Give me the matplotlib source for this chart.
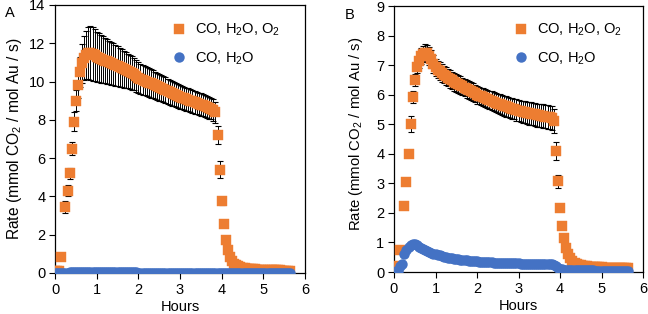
import numpy as np
import matplotlib
matplotlib.use("Agg")
import matplotlib.pyplot as plt

plt.rcParams['font.family'] = ['Liberation Sans', 'DejaVu Sans']
plt.rcParams['mathtext.fontset'] = 'custom'
plt.rcParams['mathtext.rm'] = 'Liberation Sans'
plt.rcParams['mathtext.it'] = 'Liberation Sans:italic'
plt.rcParams['mathtext.bf'] = 'Liberation Sans:bold'

STEP_H = 0.05  # sampling interval (hours)
nan = np.nan

# ---------------- Panel A ----------------
rate_A_o2 = [0.08, 0.08, 0.10, 0.85, nan, 3.45, 4.30, 5.20, 6.50, 7.90,
             9.00, 9.80, 10.50, 10.95, 11.25, 11.40, 11.50, 11.50, 11.45, 11.38,
             11.30, 11.25, 11.20, 11.15, 11.10, 11.05, 11.00, 10.95, 10.90, 10.85,
             10.80, 10.75, 10.70, 10.65, 10.60, 10.55, 10.50, 10.45, 10.40, 10.30,
             10.20, 10.15, 10.10, 10.05, 10.00, 9.95, 9.90, 9.85, 9.80, 9.75,
             9.70, 9.65, 9.60, 9.55, 9.50, 9.45, 9.40, 9.35, 9.30, 9.25,
             9.20, 9.16, 9.12, 9.08, 9.04, 9.00, 8.96, 8.92, 8.88, 8.84,
             8.80, 8.76, 8.72, 8.68, 8.62, 8.58, 8.52, 8.40, 7.20, 5.40,
             3.75, 2.55, 1.75, 1.20, 0.85, 0.62, 0.48, 0.40, 0.34, 0.30,
             0.27, 0.25, 0.23, 0.22, 0.21, 0.20, 0.19, 0.18, 0.18, 0.17,
             0.17, 0.16, 0.16, 0.15, 0.15, 0.15, 0.14, 0.14, 0.14, 0.13,
             0.13, 0.13, 0.12, 0.12]
err_A_o2 = [0.05, 0.05, 0.05, 0.10, nan, 0.33, 0.30, 0.30, 0.35, 0.50,
            0.55, 0.65, 0.80, 1.00, 1.15, 1.25, 1.35, 1.40, 1.40, 1.35,
            1.30, 1.28, 1.25, 1.22, 1.20, 1.17, 1.14, 1.12, 1.09, 1.06,
            1.04, 1.01, 0.99, 0.96, 0.94, 0.91, 0.89, 0.87, 0.85, 0.83,
            0.80, 0.79, 0.78, 0.77, 0.76, 0.75, 0.74, 0.73, 0.72, 0.71,
            0.70, 0.69, 0.68, 0.67, 0.66, 0.65, 0.65, 0.64, 0.63, 0.62,
            0.62, 0.61, 0.61, 0.60, 0.60, 0.60, 0.59, 0.59, 0.59, 0.58,
            0.58, 0.58, 0.57, 0.57, 0.57, 0.56, 0.56, 0.55, 0.48, 0.46,
            0.20, 0.15, 0.10, 0.05, 0.04, 0.03, 0.03, 0.03, 0.03, 0.03,
            0.03, 0.03, 0.03, 0.03, 0.03, 0.03, 0.03, 0.03, 0.03, 0.03,
            0.03, 0.03, 0.03, 0.03, 0.03, 0.03, 0.03, 0.03, 0.03, 0.03,
            0.03, 0.03, 0.03, 0.03]
rate_A_no_o2 = [0.01, 0.02, 0.02, 0.02, 0.02, 0.02, 0.02, 0.03, 0.03, 0.03,
                0.03, 0.03, 0.03, 0.03, 0.03, 0.03, 0.03, 0.03, 0.03, 0.03,
                0.03, 0.03, 0.03, 0.03, 0.03, 0.03, 0.03, 0.03, 0.03, 0.03,
                0.03, 0.03, 0.03, 0.03, 0.03, 0.03, 0.03, 0.03, 0.03, 0.03,
                0.02, 0.02, 0.02, 0.02, 0.02, 0.02, 0.02, 0.02, 0.02, 0.02,
                0.02, 0.02, 0.02, 0.02, 0.02, 0.02, 0.02, 0.02, 0.02, 0.02,
                0.02, 0.02, 0.02, 0.02, 0.02, 0.02, 0.02, 0.02, 0.02, 0.02,
                0.02, 0.02, 0.02, 0.02, 0.02, 0.02, 0.02, 0.02, 0.02, 0.02,
                0.02, 0.02, 0.02, 0.02, 0.02, 0.02, 0.02, 0.02, 0.02, 0.02,
                0.02, 0.02, 0.02, 0.02, 0.02, 0.02, 0.02, 0.02, 0.02, 0.02,
                0.02, 0.02, 0.02, 0.02, 0.02, 0.02, 0.02, 0.02, 0.02, 0.02,
                0.02, 0.02, 0.02, 0.02]

# ---------------- Panel B ----------------
rate_B_o2 = [0.18, 0.18, 0.20, 0.75, nan, 2.25, 3.03, 3.98, 5.00, 5.93,
             6.49, 6.94, 7.15, 7.30, 7.38, 7.42, 7.40, 7.32, 7.20, 7.05,
             6.92, 6.85, 6.80, 6.74, 6.68, 6.63, 6.58, 6.53, 6.48, 6.44,
             6.40, 6.36, 6.32, 6.28, 6.24, 6.20, 6.16, 6.12, 6.08, 6.04,
             6.00, 5.97, 5.94, 5.91, 5.88, 5.85, 5.82, 5.79, 5.76, 5.73,
             5.70, 5.68, 5.65, 5.63, 5.60, 5.58, 5.55, 5.53, 5.51, 5.48,
             5.46, 5.44, 5.42, 5.41, 5.39, 5.37, 5.36, 5.34, 5.33, 5.31,
             5.30, 5.29, 5.28, 5.26, 5.25, 5.23, 5.20, 5.10, 4.10, 3.07,
             2.17, 1.55, 1.15, 0.82, 0.60, 0.46, 0.37, 0.31, 0.27, 0.24,
             0.22, 0.21, 0.20, 0.19, 0.18, 0.18, 0.17, 0.17, 0.16, 0.16,
             0.16, 0.15, 0.15, 0.15, 0.15, 0.14, 0.14, 0.14, 0.14, 0.13,
             0.13, 0.13, 0.13, 0.13]
err_B_o2 = [0.03, 0.03, 0.03, 0.05, nan, 0.05, 0.08, 0.10, 0.27, 0.20,
            0.20, 0.22, 0.25, 0.27, 0.28, 0.28, 0.28, 0.30, 0.30, 0.30,
            0.30, 0.30, 0.30, 0.30, 0.30, 0.30, 0.30, 0.30, 0.30, 0.30,
            0.30, 0.30, 0.30, 0.30, 0.30, 0.30, 0.30, 0.30, 0.30, 0.30,
            0.30, 0.30, 0.30, 0.30, 0.31, 0.31, 0.31, 0.32, 0.32, 0.32,
            0.33, 0.33, 0.33, 0.34, 0.34, 0.34, 0.35, 0.35, 0.35, 0.36,
            0.36, 0.36, 0.37, 0.37, 0.37, 0.38, 0.38, 0.38, 0.39, 0.39,
            0.40, 0.40, 0.40, 0.40, 0.40, 0.40, 0.40, 0.40, 0.30, 0.22,
            0.10, 0.03, 0.03, 0.03, 0.03, 0.03, 0.03, 0.03, 0.03, 0.03,
            0.03, 0.03, 0.03, 0.03, 0.03, 0.03, 0.03, 0.03, 0.03, 0.03,
            0.03, 0.03, 0.03, 0.03, 0.03, 0.03, 0.03, 0.03, 0.03, 0.03,
            0.03, 0.03, 0.03, 0.03]
rate_B_no_o2 = [0.01, 0.02, 0.05, 0.20, 0.28, 0.62, 0.75, 0.85, 0.92, 0.95,
                0.94, 0.90, 0.86, 0.82, 0.78, 0.74, 0.71, 0.68, 0.65, 0.62,
                0.60, 0.58, 0.56, 0.54, 0.52, 0.50, 0.49, 0.48, 0.46, 0.45,
                0.44, 0.43, 0.42, 0.41, 0.40, 0.39, 0.385, 0.38, 0.37, 0.365,
                0.36, 0.355, 0.35, 0.345, 0.34, 0.335, 0.33, 0.325, 0.32, 0.318,
                0.315, 0.31, 0.308, 0.305, 0.302, 0.30, 0.298, 0.295, 0.292, 0.29,
                0.288, 0.286, 0.284, 0.282, 0.28, 0.278, 0.276, 0.274, 0.272, 0.27,
                0.268, 0.266, 0.264, 0.262, 0.26, 0.258, 0.255, 0.24, 0.20, 0.15,
                0.11, 0.09, 0.08, 0.075, 0.07, 0.068, 0.066, 0.064, 0.062, 0.06,
                0.058, 0.056, 0.055, 0.054, 0.053, 0.052, 0.051, 0.05, 0.05, 0.049,
                0.048, 0.047, 0.046, 0.046, 0.045, 0.045, 0.044, 0.044, 0.043, 0.043,
                0.042, 0.042, 0.041, 0.041]

labels = ["CO, H$_2$O, O$_2$", "CO, H$_2$O"]
y_limits = [(0, 14), (0, 9)]
y_steps = [2, 1]
x_ticks = [0, 1, 2, 3, 4, 5, 6]

ORANGE = "#ED7D31"
BLUE = "#4472C4"
FS = 10.5

fig = plt.figure(figsize=(6.48, 3.14), dpi=100)
W, H = 648.0, 314.0
boxes = [(55, 5, 305, 273), (394, 6, 643, 272)]
ylabel_right_px = [24, 365]
ylabel_ypos = [0.50, 0.519]
legend_left_px = [172, 514]
ylabel_sizes = [11.2, 10.7]

panels = [(rate_A_o2, err_A_o2, rate_A_no_o2), (rate_B_o2, err_B_o2, rate_B_no_o2)]

for k, ((ro2, eo2, rno), (l, t, r, b)) in enumerate(zip(panels, boxes)):
    ax = fig.add_axes([l / W, 1 - b / H, (r - l) / W, (b - t) / H])
    t_o2 = np.round(np.arange(len(ro2)) * STEP_H, 2)
    t_no = np.round(np.arange(len(rno)) * STEP_H, 2)
    ax.errorbar(t_o2, ro2, yerr=eo2, fmt='none', ecolor='black', elinewidth=0.7,
                capsize=2.3, capthick=0.8, zorder=2)
    ax.plot(t_o2, ro2, linestyle='none', marker='s', ms=7.4, mfc=ORANGE,
            mec=ORANGE, mew=0.3, zorder=3, label=labels[0])
    ax.plot(t_no, rno, linestyle='none', marker='o', ms=7.5, mfc=BLUE,
            mec=BLUE, mew=0, zorder=4, label=labels[1])
    ax.set_xlim(0, 6)
    ax.set_ylim(*y_limits[k])
    ax.set_xticks(x_ticks)
    ax.set_yticks(np.arange(y_limits[k][0], y_limits[k][1] + 0.01, y_steps[k]))
    ax.tick_params(direction='out', length=4, width=0.8, labelsize=FS, pad=3)
    for s in ax.spines.values():
        s.set_linewidth(0.9)
    ax.set_xlabel("Hours", fontsize=FS)
    ax.xaxis.set_label_coords(0.5, -0.102)
    ax.set_ylabel("Rate (mmol CO$_2$ / mol Au / s)", fontsize=ylabel_sizes[k])
    ax.yaxis.set_label_coords(-(l - ylabel_right_px[k]) / (r - l), ylabel_ypos[k])
    leg_x = (legend_left_px[k] - l) / (r - l)
    ax.legend(loc='upper left', bbox_to_anchor=(leg_x, (b - 22) / (b - t)),
              frameon=False, fontsize=FS, handlelength=1.0, handletextpad=0.6,
              labelspacing=0.82, borderpad=0, borderaxespad=0, markerscale=1.0)

fig.text(5 / W, 1 - 13 / H, "A", fontsize=10.5, va='center', ha='left')
fig.text(345 / W, 1 - 15 / H, "B", fontsize=10.5, va='center', ha='left')

fig.savefig("out.png", dpi=100)
